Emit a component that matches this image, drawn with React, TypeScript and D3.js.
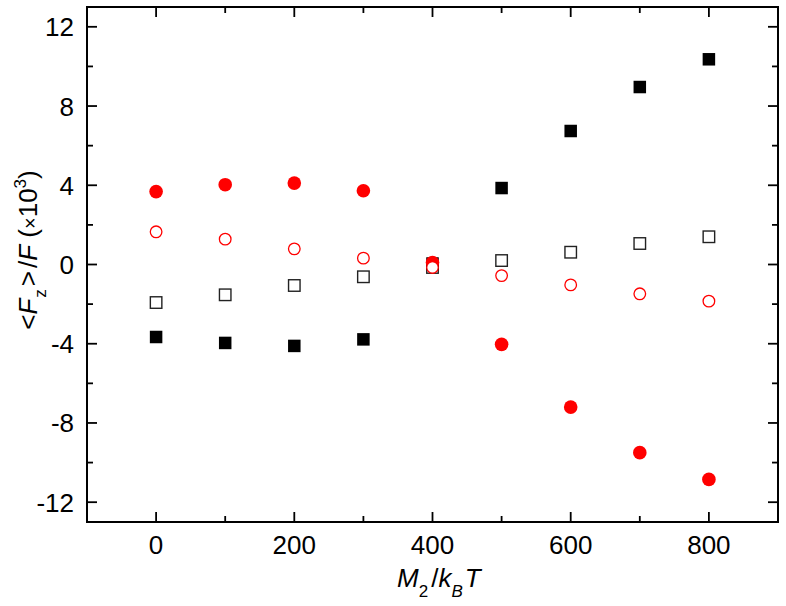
import React from "react";
import * as d3 from "d3";

// M2/kBT values
const xValues = [0, 100, 200, 300, 400, 500, 600, 700, 800];

// <Fz>/F (x10^3) for each series
const filledSquares = [-3.66, -3.96, -4.11, -3.78, 0.05, 3.86, 6.74, 8.96, 10.36];
const openSquares = [-1.92, -1.53, -1.06, -0.62, -0.15, 0.2, 0.62, 1.06, 1.4];
const filledCircles = [3.68, 4.03, 4.11, 3.72, 0.1, -4.03, -7.2, -9.5, -10.85];
const openCircles = [1.65, 1.28, 0.79, 0.32, -0.15, -0.56, -1.03, -1.48, -1.85];

const xMajor = [0, 200, 400, 600, 800];
const xMinor = [-100, 100, 300, 500, 700, 900];
const yMajor = [-12, -8, -4, 0, 4, 8, 12];
const yMinor = [-10, -6, -2, 2, 6, 10];

const width = 786;
const height = 606;
const margin = { top: 7, right: 8, bottom: 84, left: 87 };
const font = "'Liberation Sans', Arial, sans-serif";
const RED = "#ff0000";

export default function App() {
  const x = d3
    .scaleLinear()
    .domain([-100, 900])
    .range([margin.left, width - margin.right]);
  const y = d3
    .scaleLinear()
    .domain([-13, 13])
    .range([height - margin.bottom, margin.top]);

  const x0 = x(-100), x1 = x(900), y0 = y(-13), y1 = y(13);

  const sq = 12.5;
  const osq = 11.5;

  return (
    <svg
      width={width}
      height={height}
      style={{ position: "absolute", left: 0, top: 0, background: "#fff" }}
      fontFamily={font}
    >
      {/* ticks on all four sides, pointing in */}
      <g stroke="#000" strokeWidth={1.8}>
        {xMajor.map((v) => (
          <g key={"xM" + v}>
            <line x1={x(v)} x2={x(v)} y1={y0} y2={y0 - 10} />
            <line x1={x(v)} x2={x(v)} y1={y1} y2={y1 + 10} />
          </g>
        ))}
        {xMinor.map((v) => (
          <g key={"xm" + v}>
            <line x1={x(v)} x2={x(v)} y1={y0} y2={y0 - 6} />
            <line x1={x(v)} x2={x(v)} y1={y1} y2={y1 + 6} />
          </g>
        ))}
        {yMajor.map((v) => (
          <g key={"yM" + v}>
            <line x1={x0} x2={x0 + 10} y1={y(v)} y2={y(v)} />
            <line x1={x1} x2={x1 - 10} y1={y(v)} y2={y(v)} />
          </g>
        ))}
        {yMinor.map((v) => (
          <g key={"ym" + v}>
            <line x1={x0} x2={x0 + 6} y1={y(v)} y2={y(v)} />
            <line x1={x1} x2={x1 - 6} y1={y(v)} y2={y(v)} />
          </g>
        ))}
      </g>
      <rect x={x0} y={y1} width={x1 - x0} height={y0 - y1} fill="none" stroke="#000" strokeWidth={2} />

      {/* tick labels */}
      <g fontSize={26} fill="#000">
        {xMajor.map((v) => (
          <text key={"xl" + v} x={x(v)} y={554} textAnchor="middle">
            {v}
          </text>
        ))}
        {yMajor.map((v) => (
          <text key={"yl" + v} x={74} y={y(v) + 9.5} textAnchor="end">
            {v}
          </text>
        ))}
      </g>

      {/* data */}
      <g>
        {xValues.map((v, i) => (
          <rect
            key={"os" + i}
            x={x(v) - osq / 2}
            y={y(openSquares[i]) - osq / 2}
            width={osq}
            height={osq}
            fill="#fff"
            stroke="#222"
            strokeWidth={1.4}
          />
        ))}
        {xValues.map((v, i) => (
          <rect
            key={"fs" + i}
            x={x(v) - sq / 2}
            y={y(filledSquares[i]) - sq / 2}
            width={sq}
            height={sq}
            fill="#000"
          />
        ))}
        {xValues.map((v, i) => (
          <circle key={"fc" + i} cx={x(v)} cy={y(filledCircles[i])} r={6.8} fill={RED} />
        ))}
        {xValues.map((v, i) => (
          <circle
            key={"oc" + i}
            cx={x(v)}
            cy={y(openCircles[i])}
            r={5.8}
            fill="#fff"
            stroke={RED}
            strokeWidth={1.3}
          />
        ))}
      </g>

      {/* x title */}
      <text x={397} y={587} fontSize={26} fill="#000">
        <tspan fontStyle="italic">M</tspan>
        <tspan fontSize={17} dy={10}>2</tspan>
        <tspan dy={-10} dx={3}>/</tspan>
        <tspan fontStyle="italic">k</tspan>
        <tspan fontStyle="italic" fontSize={17} dy={10}>B</tspan>
        <tspan fontStyle="italic" dy={-10} dx={2}>T</tspan>
      </text>

      {/* y title */}
      <text transform="translate(37,250) rotate(-90)" textAnchor="middle" fontSize={26} fill="#000">
        <tspan>&lt;</tspan>
        <tspan fontStyle="italic">F</tspan>
        <tspan fontSize={17} dy={9} dx={1}>z</tspan>
        <tspan dy={-9} dx={3}>&gt;</tspan>
        <tspan dx={3}>/</tspan>
        <tspan fontStyle="italic">F</tspan>
        <tspan> (</tspan>
        <tspan fontSize={20}>×</tspan>
        <tspan>10</tspan>
        <tspan fontSize={17} dy={-11}>3</tspan>
        <tspan dy={11}>)</tspan>
      </text>
    </svg>
  );
}
